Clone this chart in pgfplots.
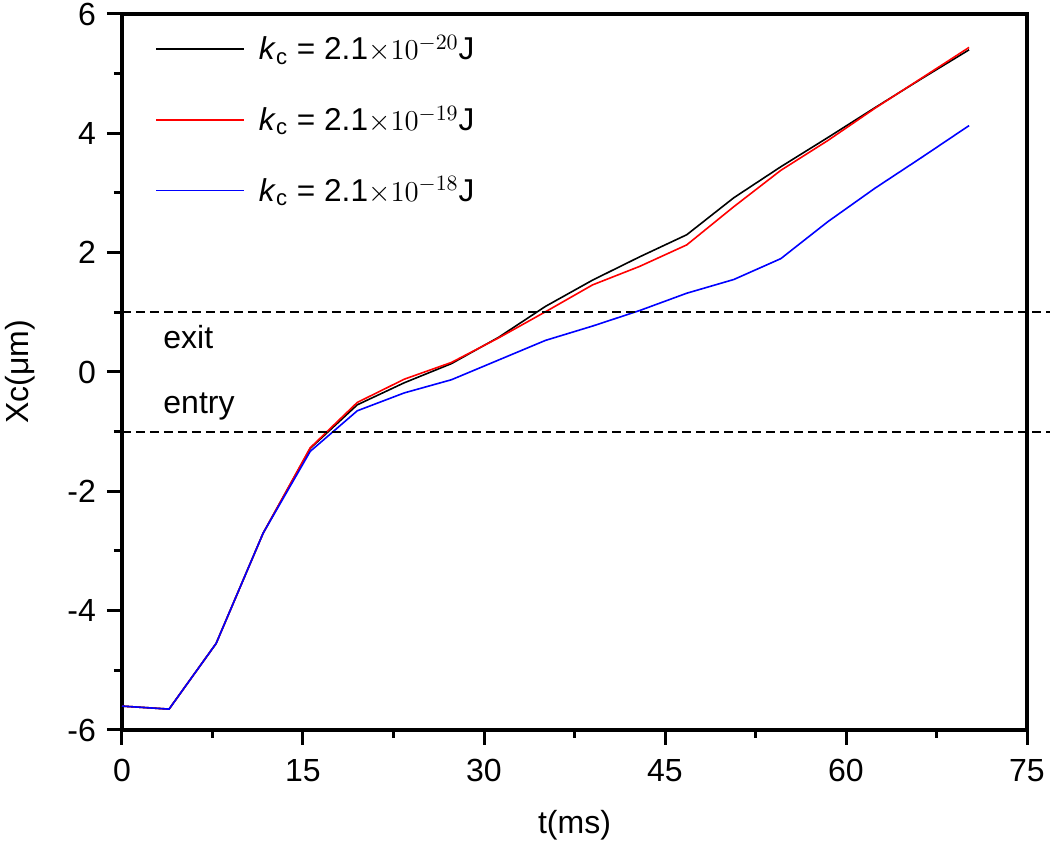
\documentclass[border=0pt]{standalone}
\usepackage{fontspec}
\setmainfont{Liberation Sans}
\usepackage{pgfplots}
\pgfplotsset{compat=1.18}
\usetikzlibrary{calc}
\begin{document}
\begin{tikzpicture}
\begin{axis}[
 scale only axis, width=452.5pt, height=358pt,
 xmin=0, xmax=75, ymin=-6, ymax=6,
 xtick={0,15,...,75}, ytick={-6,-4,...,6},
 minor x tick num=1, minor y tick num=1,
 tick pos=left, tick align=outside,
 major tick length=7.5pt, minor tick length=4pt,
 tick style={line width=1.5pt, black},
 axis line style={line width=2pt},
 /pgf/number format/assume math mode=true,
 ticklabel style={font=\fontsize{16}{19}\selectfont},
 xticklabel style={yshift=-3.5pt},
 yticklabel style={xshift=-2pt},
 label style={font=\fontsize{16}{19}\selectfont},
 xlabel={t(ms)}, ylabel={Xc(μm)},
 xlabel style={at={(rel axis cs:0.5,0)}, anchor=center, yshift=-47.5pt},
 ylabel style={at={(rel axis cs:0,0.5)}, anchor=center, yshift=51pt},
 clip=false,
 legend style={draw=none, fill=none, at={(rel axis cs:0,1)}, anchor=north west,
   xshift=16.5pt, yshift=-8.5pt, font=\fontsize{15.8}{18}\selectfont,
   row sep=17.5pt, column sep=5pt, inner sep=0pt},
 legend cell align=left,
 legend image code/.code={\draw[#1] (0pt,0pt) -- (44pt,0pt);},
]
\addplot[black, line width=0.8pt] coordinates {
(0,-5.60) (3.9,-5.65) (7.8,-4.55) (11.7,-2.70) (15.6,-1.28) (19.5,-0.55) (23.4,-0.18) (27.3,0.14) (31.2,0.58) (35.1,1.10) (39.0,1.54) (42.9,1.93) (46.8,2.30) (50.7,2.92) (54.6,3.44) (58.5,3.93) (62.4,4.43) (66.3,4.92) (70.2,5.40)};
\addlegendentry{\textit{k}\textsubscript{c} = 2.1$\times10^{-20}$J}
\addplot[red, line width=0.8pt] coordinates {
(0,-5.60) (3.9,-5.65) (7.8,-4.55) (11.7,-2.70) (15.6,-1.27) (19.5,-0.51) (23.4,-0.12) (27.3,0.16) (31.2,0.57) (35.1,1.01) (39.0,1.46) (42.9,1.77) (46.8,2.13) (50.7,2.77) (54.6,3.38) (58.5,3.88) (62.4,4.42) (66.3,4.93) (70.2,5.44)};
\addlegendentry{\textit{k}\textsubscript{c} = 2.1$\times10^{-19}$J}
\addplot[blue, line width=0.8pt] coordinates {
(0,-5.60) (3.9,-5.65) (7.8,-4.55) (11.7,-2.70) (15.6,-1.33) (19.5,-0.65) (23.4,-0.35) (27.3,-0.13) (31.2,0.20) (35.1,0.53) (39.0,0.77) (42.9,1.03) (46.8,1.32) (50.7,1.55) (54.6,1.90) (58.5,2.52) (62.4,3.08) (66.3,3.60) (70.2,4.13)};
\addlegendentry{\textit{k}\textsubscript{c} = 2.1$\times10^{-18}$J}
\addplot[black, line width=0.9pt, dash pattern=on 4.5pt off 2.5pt, forget plot] coordinates {(0,1) (78,1)};
\addplot[black, line width=0.9pt, dash pattern=on 4.5pt off 2.5pt, forget plot] coordinates {(0,-1) (78,-1)};
\node[anchor=base west, font=\fontsize{16}{19}\selectfont, inner sep=0pt] at (axis cs:3.4,0.40) {exit};
\node[anchor=base west, font=\fontsize{16}{19}\selectfont, inner sep=0pt] at (axis cs:3.4,-0.69) {entry};
\coordinate (bl) at (rel axis cs:0,0);
\coordinate (tr) at (rel axis cs:1,1);
\end{axis}
\pgfresetboundingbox
\useasboundingbox ($(bl)+(-61pt,-58.5pt)$) rectangle ($(tr)+(11.5pt,7pt)$);
\end{tikzpicture}
\end{document}
